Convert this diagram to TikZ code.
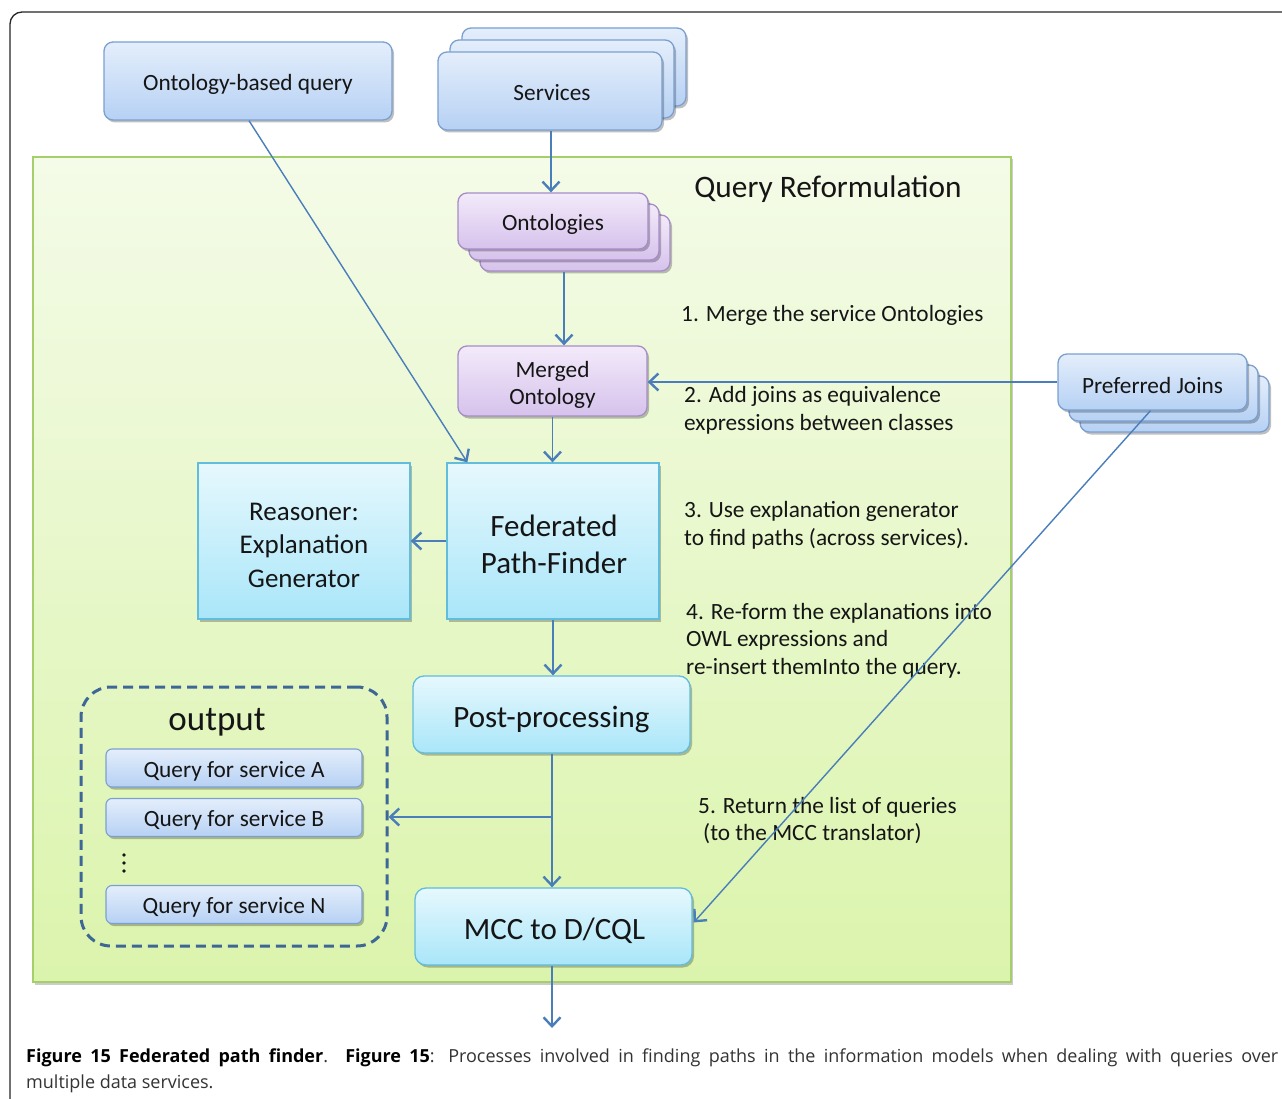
\documentclass[tikz,border=0pt]{standalone}
\usepackage{fontspec}
\setmainfont{Carlito}
\newfontfamily\capfont{Open Sans}
\usetikzlibrary{arrows.meta,shadows,calc}
\definecolor{arrowblue}{HTML}{4A7EBB}
\definecolor{bluetop}{HTML}{E4EEFB}
\definecolor{bluebot}{HTML}{B6D1F4}
\definecolor{blueline}{HTML}{7BA0D0}
\definecolor{purptop}{HTML}{F3EAFA}
\definecolor{purpbot}{HTML}{D6C2EC}
\definecolor{purpline}{HTML}{A68DC8}
\definecolor{cyantop}{HTML}{E6F8FD}
\definecolor{cyanbot}{HTML}{A9E6F9}
\definecolor{cyanline}{HTML}{62BCDB}
\definecolor{greentop}{HTML}{F4FBE8}
\definecolor{greenbot}{HTML}{DBF4AC}
\definecolor{greenline}{HTML}{A6CF6B}
\definecolor{dashblue}{HTML}{3F6796}
\definecolor{txt}{HTML}{151515}
\tikzset{
  x=1pt, y=-1pt,
  sh/.style={drop shadow={shadow xshift=2pt, shadow yshift=-2.5pt, opacity=0.25, fill=black}},
  base/.style={inner sep=0pt, line width=1.3pt, sh},
  bluebox/.style={base, rounded corners=9pt, draw=blueline, top color=bluetop, bottom color=bluebot},
  purpbox/.style={base, rounded corners=9pt, draw=purpline, top color=purptop, bottom color=purpbot},
  cyanbox/.style={base, draw=cyanline, top color=cyantop, bottom color=cyanbot},
  cyanround/.style={cyanbox, rounded corners=11pt},
  lbl/.style={inner sep=0pt, align=center, text=txt, font=\fontsize{23.3}{27.5}\selectfont},
  biglbl/.style={lbl, font=\fontsize{31}{37}\selectfont},
  arr/.style={draw=arrowblue, line width=1.4pt, -{Straight Barb[length=9pt, width=17pt, line width=2.4pt]}},
  note/.style={inner sep=0pt, anchor=west, align=left, text=txt, font=\fontsize{23.3}{27.5}\selectfont},
}
\begin{document}
\begin{tikzpicture}
\path[use as bounding box] (0,0) rectangle (1282,1099);
\clip (0,0) rectangle (1282,1099);
\fill[white] (0,0) rectangle (1282,1099);
% outer frame
\draw[line width=1.3pt, draw=black!85, rounded corners=12pt] (1300,12) -- (10,12) -- (10,1130);

% green region
\node[draw=greenline, line width=1.3pt, top color=greentop, bottom color=greenbot,
      minimum width=978pt, minimum height=825pt, inner sep=0pt,
      drop shadow={shadow xshift=2pt, shadow yshift=-2.5pt, opacity=0.2, fill=black}] (green) at (522,569.5) {};
\node[lbl, font=\fontsize{31.3}{36}\selectfont] (qr) at (828,189) {Query Reformulation};

% top inputs
\node[bluebox, minimum width=288pt, minimum height=78pt] (oq) at (248,81) {};
\node[lbl] (oqt) at ($(oq)+(0,3)$) {Ontology-based query};
\node[bluebox, minimum width=224pt, minimum height=78pt] (ser3) at (574,67) {};
\node[bluebox, minimum width=224pt, minimum height=78pt] (ser2) at (562,79) {};
\node[bluebox, minimum width=224pt, minimum height=78pt] (ser) at (550,91) {};
\node[lbl] (sert) at ($(ser)+(2,2)$) {Services};

% ontologies
\node[purpbox, minimum width=190pt, minimum height=56pt] (ont3) at (575,243) {};
\node[purpbox, minimum width=190pt, minimum height=56pt] (ont2) at (564,232) {};
\node[purpbox, minimum width=190pt, minimum height=56pt] (ont) at (553,221) {};
\node[lbl] (ontt) at ($(ont)+(0,3)$) {Ontologies};

\node[purpbox, minimum width=189pt, minimum height=70pt] (merged) at (552.5,381) {};
\node[lbl] (mergedt) at ($(merged)+(0,4)$) {Merged\\Ontology};

% preferred joins
\node[bluebox, minimum width=189pt, minimum height=56pt] (pj3) at (1174.5,404) {};
\node[bluebox, minimum width=189pt, minimum height=56pt] (pj2) at (1163.5,393) {};
\node[bluebox, minimum width=189pt, minimum height=56pt] (pj) at (1152.5,382) {};
\node[lbl] (pjt) at ($(pj)+(0,3)$) {Preferred Joins};

% reasoner and path finder
\node[cyanbox, minimum width=212pt, minimum height=156pt] (reas) at (304,541) {};
\node[lbl, font=\fontsize{27}{33.5}\selectfont] (reast) at ($(reas)+(0,4)$) {Reasoner:\\Explanation\\Generator};
\node[cyanbox, minimum width=212pt, minimum height=156pt] (fed) at (553,541) {};
\node[biglbl] (fedt) at ($(fed)+(1,3)$) {Federated\\Path-Finder};

\node[cyanround, minimum width=277pt, minimum height=77pt] (post) at (551.5,714.5) {};
\node[biglbl] (postt) at ($(post)+(0,5)$) {Post-processing};
\node[cyanround, minimum width=277pt, minimum height=77pt] (mcc) at (553.5,926.5) {};
\node[biglbl] (mcct) at ($(mcc)+(1,4)$) {MCC to D/CQL};

% output box
\node[draw=dashblue, line width=3pt, dash pattern=on 10pt off 6pt, rounded corners=30pt,
      minimum width=306pt, minimum height=259pt, inner sep=0pt] (outbox) at (234,816.5) {};
\node[lbl, font=\fontsize{35}{40}\selectfont] (outlbl) at (217,722) {output};
\node[bluebox, rounded corners=6pt, minimum width=256pt, minimum height=38pt, line width=1.1pt] (qa) at (234,768) {};
\node[lbl] (qat) at ($(qa)+(0,3)$) {Query for service A};
\node[bluebox, rounded corners=6pt, minimum width=256pt, minimum height=38pt, line width=1.1pt] (qb) at (234,817.5) {};
\node[lbl] (qbt) at ($(qb)+(0,3)$) {Query for service B};
\node[bluebox, rounded corners=6pt, minimum width=256pt, minimum height=38pt, line width=1.1pt] (qn) at (234,904.5) {};
\node[lbl] (qnt) at ($(qn)+(0,3)$) {Query for service N};
\foreach \yy in {855,863,871} \fill[txt] (124,\yy) circle (1.9);

% annotations
\node[note] (n1) at (681,315) {1. Merge the service Ontologies};
\node[note] (n2) at (684,410.5) {2. Add joins as equivalence\\expressions between classes};
\node[note] (n3) at (684,525.5) {3. Use explanation generator\\to find paths (across services).};
\node[note] (n4) at (686,640.5) {4. Re-form the explanations into\\OWL expressions and\\re-insert themInto the query.};
\node[note] (n5) at (698,820.5) {5. Return the list of queries\\\hspace*{5pt}(to the MCC translator)};

% connectors
\draw[arr] (ser.south -| 551,0) -- (ont.north -| 551,0);
\draw[arr] (ont3.south -| ont2.south) -- (merged.north -| ont2.south);
\draw[arr] (pj.west) -- (merged.east |- pj.west);
\draw[arr] (merged.south) -- (fed.north -| merged.south);
\draw[arr] ($(oq.south)+(1,0)$) -- ($(fed.north west)+(21,0)$);
\draw[arr] (fed.west) -- (reas.east);
\draw[arr] (fed.south) -- (post.north -| fed.south);
\draw[arr] (post.south -| 552,0) -- (mcc.north -| 552,0);
\coordinate (br) at (552,817);
\draw[arr] (br) -- (br -| outbox.east);
\draw[arr] ($(pj.south)+(-2,0)$) -- ($(mcc.east)+(1,-4)$);
\coordinate (outend) at (552,1028);
\draw[arr] (mcc.south -| outend) -- (outend);

% caption
\node[anchor=north west, inner sep=0pt, text width=1252pt, align=justify,
      font=\capfont\fontsize{18}{26}\selectfont, text=black!80] (cap) at (26,1049)
  {\textbf{\color{black}Figure 15 Federated path finder}. \textbf{\color{black}Figure 15}: Processes involved in finding paths in the information models when dealing with queries over\linebreak multiple data services.};
\end{tikzpicture}
\end{document}
